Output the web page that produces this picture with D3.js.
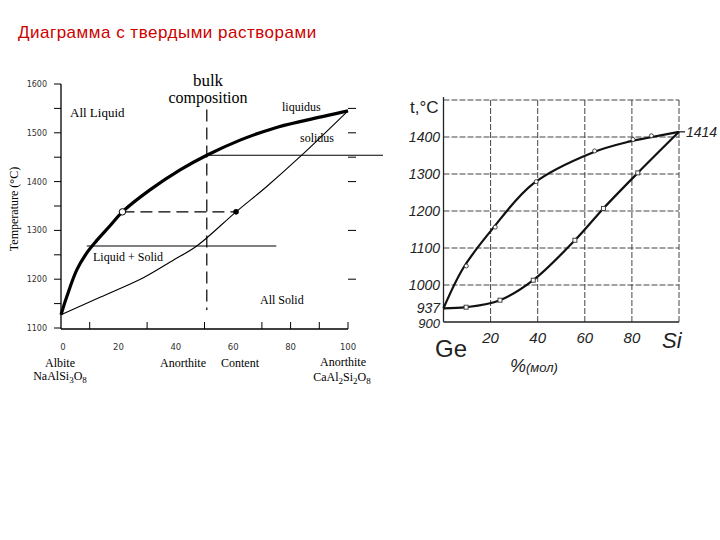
<!DOCTYPE html>
<html><head><meta charset="utf-8">
<script src="https://cdn.jsdelivr.net/npm/d3@7"></script>
<style>html,body{margin:0;padding:0;background:#fff;}</style>
</head><body>
<svg id="c" width="720" height="540"></svg>
<script>
// ---------- Data: Albite–Anorthite (left) ----------
const liqComp = [0, 2, 5.5, 9, 12.4, 17, 21.4, 31, 41.5, 50.8, 62.4, 74, 85.6, 100];
const liqTemp = [1127, 1164, 1219, 1254, 1279, 1309, 1338, 1383, 1424, 1454, 1485, 1509, 1526, 1545];
const solComp = [0, 13.6, 28.7, 39.1, 47.3, 61, 71.7, 83.3, 100];
const solTemp = [1127, 1163, 1203, 1239, 1268, 1338, 1390, 1451, 1545];
const leftYTickLabels = [1100, 1200, 1300, 1400, 1500, 1600];
const leftYTicks = [1100, 1150, 1200, 1250, 1300, 1350, 1400, 1450, 1500, 1550, 1600];
const leftRightTicks = [1200, 1300, 1400, 1450, 1500, 1550];
const leftXTickLabels = [0, 20, 40, 60, 80, 100];
const leftXTicks = [10, 30, 50, 70, 80, 90, 100];
const bulkComp = 50.8;
const tieTemp = 1338, tieLiq = 21.4, tieSol = 61;
const upperIsoTemp = 1454, lowerIsoTemp = 1268;

// ---------- Data: Ge–Si (right) ----------
const geLiqComp = [0, 8.4, 20.7, 38.1, 62.9, 79.2, 87, 100];
const geLiqTemp = [937, 1046, 1151, 1274, 1357, 1388, 1398, 1414];
const geSolComp = [0, 9.6, 24, 38.1, 55.8, 67.9, 82.5, 100];
const geSolTemp = [937, 940, 959, 1013, 1121, 1207, 1303, 1414];
const geLiqMarkComp = [8.4, 20.7, 38.1, 62.9, 79.2, 87];
const geLiqMarkTemp = [1046, 1151, 1274, 1357, 1388, 1398];
const geSolMarkComp = [9.6, 24, 38.1, 55.8, 67.9, 82.5];
const geSolMarkTemp = [940, 959, 1013, 1121, 1207, 1303];
const geYTicks = [1000, 1100, 1200, 1300, 1400];
const geYLabels = ["1000", "1100", "1200", "1300", "1400"];
const geXTicks = [20, 40, 60, 80];
const geXLabels = ["20", "40", "60", "80"];

const svg = d3.select("#c");

// Title
svg.append("text").attr("x", 18).attr("y", 38)
  .attr("font-family", "Arial, 'Liberation Sans', sans-serif").attr("font-size", 17)
  .attr("letter-spacing", 0.5)
  .attr("fill", "#cc0000").text("Диаграмма с твердыми растворами");

// ================= LEFT CHART =================
const serif = "'Liberation Serif', 'Times New Roman', serif";
const xL = d3.scaleLinear().domain([0, 100]).range([61, 348]);
const yL = d3.scaleLinear().domain([1100, 1600]).range([328, 84]);
const gL = svg.append("g");

gL.append("line").attr("x1", xL(0)).attr("x2", xL(0)).attr("y1", yL(1600)).attr("y2", yL(1100) + 1)
  .attr("stroke", "#000").attr("stroke-width", 1.3);
gL.append("line").attr("x1", xL(0)).attr("x2", xL(100)).attr("y1", yL(1100) + 1).attr("y2", yL(1100) + 1)
  .attr("stroke", "#000").attr("stroke-width", 1.3);
gL.selectAll(".lyt").data(leftYTicks).join("line")
  .attr("x1", xL(0) - 7).attr("x2", xL(0)).attr("y1", d => yL(d)).attr("y2", d => yL(d))
  .attr("stroke", "#000").attr("stroke-width", 1);
gL.selectAll(".lyl").data(leftYTickLabels).join("text")
  .attr("x", 47).attr("y", d => yL(d) + 3).attr("text-anchor", "end")
  .attr("font-family", "'DejaVu Sans', sans-serif").attr("font-size", 8).attr("fill", "#333")
  .text(d => d);
gL.selectAll(".lrt").data(leftRightTicks).join("line")
  .attr("x1", xL(100)).attr("x2", xL(100) + 8).attr("y1", d => yL(d)).attr("y2", d => yL(d))
  .attr("stroke", "#000").attr("stroke-width", 1);
gL.selectAll(".lxt").data(leftXTicks).join("line")
  .attr("x1", d => xL(d)).attr("x2", d => xL(d)).attr("y1", yL(1100) + 1).attr("y2", yL(1100) - 6)
  .attr("stroke", "#000").attr("stroke-width", 1);
gL.selectAll(".lxl").data(leftXTickLabels).join("text")
  .attr("x", d => xL(d) + (d === 0 ? 2 : 0)).attr("y", 350).attr("text-anchor", "middle")
  .attr("font-family", "'DejaVu Sans', sans-serif").attr("font-size", 8.5).attr("fill", "#333")
  .text(d => d);

gL.append("text").attr("transform", "translate(18,209) rotate(-90)").attr("text-anchor", "middle")
  .attr("font-family", serif).attr("font-size", 12).text("Temperature (°C)");

const lineL = d3.line().x(d => xL(d[0])).y(d => yL(d[1])).curve(d3.curveCatmullRom.alpha(0.5));
gL.append("path").attr("d", lineL(solComp.map((c, i) => [c, solTemp[i]])))
  .attr("fill", "none").attr("stroke", "#000").attr("stroke-width", 1.1);
gL.append("path").attr("d", lineL(liqComp.map((c, i) => [c, liqTemp[i]])))
  .attr("fill", "none").attr("stroke", "#000").attr("stroke-width", 3.2);

gL.append("line").attr("x1", xL(bulkComp)).attr("x2", 383).attr("y1", yL(upperIsoTemp)).attr("y2", yL(upperIsoTemp))
  .attr("stroke", "#000").attr("stroke-width", 1.1);
gL.append("line").attr("x1", xL(9)).attr("x2", xL(75)).attr("y1", yL(lowerIsoTemp)).attr("y2", yL(lowerIsoTemp))
  .attr("stroke", "#000").attr("stroke-width", 1.1);
gL.append("line").attr("x1", xL(bulkComp)).attr("x2", xL(bulkComp)).attr("y1", yL(1548)).attr("y2", yL(1137))
  .attr("stroke", "#000").attr("stroke-width", 1.2).attr("stroke-dasharray", "12,6");
gL.append("line").attr("x1", xL(tieLiq)).attr("x2", xL(tieSol)).attr("y1", yL(tieTemp)).attr("y2", yL(tieTemp))
  .attr("stroke", "#000").attr("stroke-width", 1.2).attr("stroke-dasharray", "12,6");
gL.append("circle").attr("cx", xL(tieLiq)).attr("cy", yL(tieTemp)).attr("r", 3.2)
  .attr("fill", "#fff").attr("stroke", "#000").attr("stroke-width", 1);
gL.append("circle").attr("cx", xL(tieSol)).attr("cy", yL(tieTemp)).attr("r", 2.8).attr("fill", "#000");

const tl = (x, y, t, size, anchor) => gL.append("text").attr("x", x).attr("y", y)
  .attr("font-family", serif).attr("font-size", size).attr("text-anchor", anchor || "start").text(t);
tl(208, 86, "bulk", 17, "middle");
tl(208, 103, "composition", 16, "middle");
tl(70, 117, "All  Liquid", 13);
tl(282, 111, "liquidus", 12);
tl(300, 142, "solidus", 12);
tl(93, 261, "Liquid  +  Solid", 12);
tl(260, 304, "All  Solid", 12);
tl(60, 367, "Albite", 12, "middle");
const na = tl(60, 380, "", 12, "middle");
na.append("tspan").text("NaAlSi");
na.append("tspan").attr("font-size", 9).attr("dy", 3).text("3");
na.append("tspan").attr("dy", -3).text("O");
na.append("tspan").attr("font-size", 9).attr("dy", 3).text("8");
tl(183, 367, "Anorthite", 12, "middle");
tl(240, 367, "Content", 12, "middle");
tl(343, 366, "Anorthite", 12, "middle");
const ca = tl(342, 381, "", 12, "middle");
ca.append("tspan").text("CaAl");
ca.append("tspan").attr("font-size", 9).attr("dy", 3).text("2");
ca.append("tspan").attr("dy", -3).text("Si");
ca.append("tspan").attr("font-size", 9).attr("dy", 3).text("2");
ca.append("tspan").attr("dy", -3).text("O");
ca.append("tspan").attr("font-size", 9).attr("dy", 3).text("8");

// ================= RIGHT CHART =================
const hand = "'Liberation Sans', Arial, sans-serif";
const xR = d3.scaleLinear().domain([0, 100]).range([443.5, 679]);
const yR = d3.scaleLinear().domain([900, 1500]).range([322, 100]);
const gR = svg.append("g");

gR.selectAll(".gh").data(geYTicks).join("line")
  .attr("x1", xR(0)).attr("x2", xR(100)).attr("y1", d => yR(d)).attr("y2", d => yR(d))
  .attr("stroke", "#444").attr("stroke-width", 1).attr("stroke-dasharray", "6,2");
gR.selectAll(".gv").data(geXTicks).join("line")
  .attr("x1", d => xR(d)).attr("x2", d => xR(d)).attr("y1", yR(1500)).attr("y2", yR(900))
  .attr("stroke", "#444").attr("stroke-width", 1).attr("stroke-dasharray", "6,2");
gR.append("line").attr("x1", xR(0)).attr("x2", xR(100)).attr("y1", yR(1500)).attr("y2", yR(1500))
  .attr("stroke", "#444").attr("stroke-width", 1).attr("stroke-dasharray", "6,2");
gR.append("line").attr("x1", xR(100)).attr("x2", xR(100)).attr("y1", yR(1500)).attr("y2", yR(900))
  .attr("stroke", "#444").attr("stroke-width", 1).attr("stroke-dasharray", "6,2");
gR.append("line").attr("x1", xR(0)).attr("x2", xR(0)).attr("y1", yR(1508)).attr("y2", yR(900))
  .attr("stroke", "#222").attr("stroke-width", 1.3);
gR.append("line").attr("x1", xR(0)).attr("x2", xR(100)).attr("y1", yR(900)).attr("y2", yR(900))
  .attr("stroke", "#222").attr("stroke-width", 1.3);

gR.selectAll(".yl").data(geYTicks).join("text")
  .attr("x", 440).attr("y", d => yR(d) + 5).attr("text-anchor", "end")
  .attr("font-family", hand).attr("font-style", "italic").attr("font-size", 14).attr("fill", "#222")
  .text((d, i) => geYLabels[i]);
gR.append("text").attr("x", 440).attr("y", 313).attr("text-anchor", "end")
  .attr("font-family", hand).attr("font-style", "italic").attr("font-size", 14).attr("fill", "#222").text("937");
gR.append("text").attr("x", 440).attr("y", 328).attr("text-anchor", "end")
  .attr("font-family", hand).attr("font-style", "italic").attr("font-size", 13).attr("fill", "#222").text("900");
gR.selectAll(".xl").data(geXTicks).join("text")
  .attr("x", d => xR(d)).attr("y", 343).attr("text-anchor", "middle")
  .attr("font-family", hand).attr("font-style", "italic").attr("font-size", 15).attr("fill", "#222")
  .text((d, i) => geXLabels[i]);
gR.append("text").attr("x", 410).attr("y", 113).attr("font-family", hand).attr("font-size", 17).attr("fill", "#222").text("t,°C");
gR.append("line").attr("x1", xR(100)).attr("x2", xR(100) + 6).attr("y1", yR(1414)).attr("y2", yR(1414))
  .attr("stroke", "#222").attr("stroke-width", 1.3);
gR.append("text").attr("x", 686).attr("y", yR(1414) + 5).attr("font-family", hand).attr("font-style", "italic")
  .attr("font-size", 14).attr("fill", "#222").text("1414");
gR.append("text").attr("x", 435).attr("y", 357).attr("font-family", hand).attr("font-size", 24).attr("fill", "#222").text("Ge");
gR.append("text").attr("x", 662).attr("y", 348).attr("font-family", hand).attr("font-style", "italic").attr("font-size", 22).attr("fill", "#222").text("Si");
const pct = gR.append("text").attr("x", 510).attr("y", 372).attr("font-family", hand).attr("font-style", "italic").attr("fill", "#222");
pct.append("tspan").attr("font-size", 18).text("%");
pct.append("tspan").attr("font-size", 13).text("(мол)");

const lineR = d3.line().x(d => xR(d[0])).y(d => yR(d[1])).curve(d3.curveCatmullRom.alpha(0.5));
gR.append("path").attr("d", lineR(geLiqComp.map((c, i) => [c, geLiqTemp[i]])))
  .attr("fill", "none").attr("stroke", "#111").attr("stroke-width", 2.2);
gR.append("path").attr("d", lineR(geSolComp.map((c, i) => [c, geSolTemp[i]])))
  .attr("fill", "none").attr("stroke", "#111").attr("stroke-width", 2.2);
gR.selectAll(".ml").data(geLiqMarkComp).join("circle")
  .attr("cx", d => xR(d) + 3).attr("cy", (d, i) => yR(geLiqMarkTemp[i]) - 2).attr("r", 2)
  .attr("fill", "#fff").attr("stroke", "#333").attr("stroke-width", 0.9);
gR.selectAll(".ms").data(geSolMarkComp).join("rect")
  .attr("x", d => xR(d) - 2).attr("y", (d, i) => yR(geSolMarkTemp[i]) - 2).attr("width", 4).attr("height", 4)
  .attr("fill", "#fff").attr("stroke", "#333").attr("stroke-width", 0.9);
</script>
</body></html>
